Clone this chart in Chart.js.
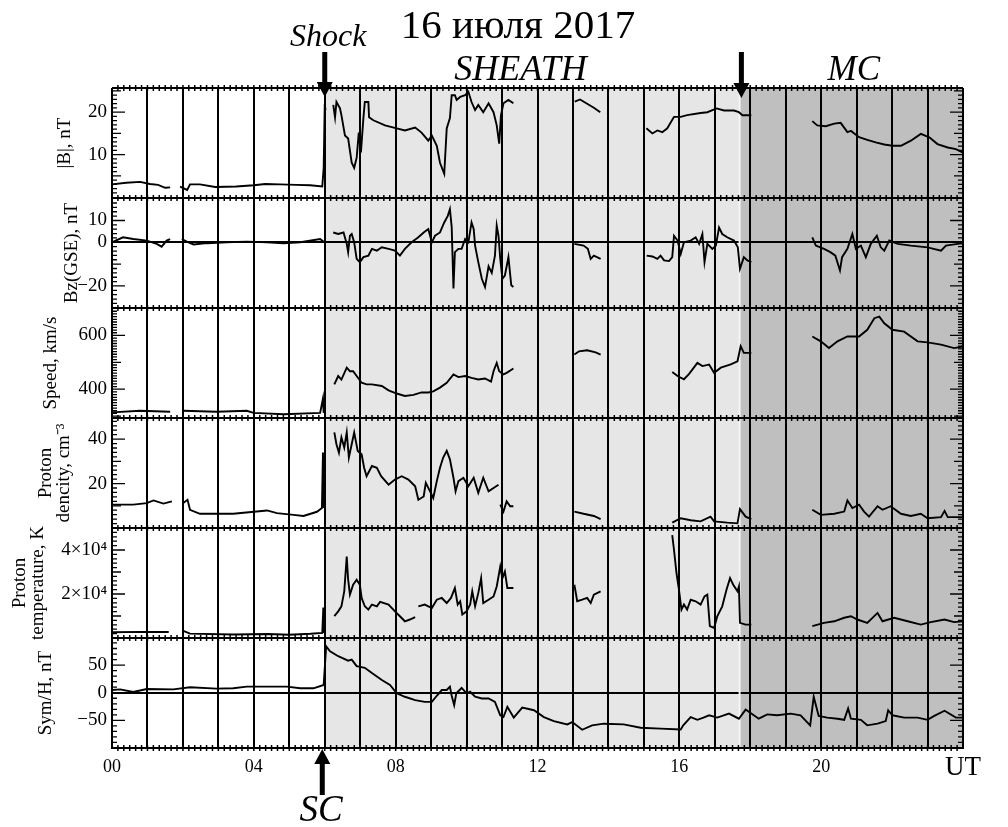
<!DOCTYPE html>
<html lang="ru">
<head>
<meta charset="UTF-8">
<title>16 июля 2017</title>
<script src="https://cdn.jsdelivr.net/npm/chart.js"></script>
<style>
  html, body { margin: 0; padding: 0; background: #fff; }
  #wrap { width: 1008px; height: 827px; }
</style>
</head>
<body>
<div id="wrap"><canvas id="grafico" width="1008" height="827"></canvas></div>
<script>
// ---- dados (tempo em horas UT, null = falha nos dados) ----
const horas = [0,1,2,3,4,5,6,7,8,9,10,11,12,13,14,15,16,17,18,19,20,21,22,23,24];
const horasRotulo = [0, 4, 8, 12, 16, 20];
const rotulosHora = ['00', '04', '08', '12', '16', '20'];

const inicioSheath = 6.0;   // choque
const inicioMC = 17.7;      // nuvem magnética
const setaChoque = 6.0;
const setaMC = 17.75;
const setaSC = 5.93;

// |B|, nT
const bT = [0,0.4,0.79,1.07,1.3,1.5,1.64,1.78,1.92,2.12,2.2,2.48,2.91,3.5,4.0,4.32,4.74,5.2,5.59,5.93,5.97,6.0,6.02,6.1,
  6.24,6.29,6.33,6.43,6.47,6.57,6.66,6.76,6.83,6.9,6.96,7.02,7.09,7.13,7.23,7.25,7.37,7.7,8.03,8.26,8.55,8.73,8.92,9.02,9.16,9.25,9.37,9.44,9.53,9.58,9.67,9.72,9.82,9.96,10.05,10.14,10.24,10.33,10.47,10.62,10.76,10.85,10.92,10.97,11.04,11.18,11.32,12.2,
  13.05,13.2,13.4,13.6,13.77,14.4,
  15.07,15.24,15.38,15.52,15.66,15.85,16.04,16.22,16.6,16.79,17.05,17.26,17.54,17.68,17.78,18.03,19.0,
  19.75,19.89,20.13,20.37,20.55,20.74,20.84,21.07,21.3,21.54,21.78,22.01,22.25,22.53,22.81,23.05,23.28,23.57,23.8,24.0];
const bV = [3.0,3.4,3.6,3.1,2.9,2.2,2.3,null,2.5,1.7,3.0,3.0,2.4,2.5,2.8,3.1,3.0,2.9,2.8,2.5,6.9,22.0,20.5,null,
  21.7,18.8,22.4,20.9,19.3,14.5,13.8,8.1,6.9,9.3,15.2,10.5,18.6,22.4,22.4,18.8,18.1,16.9,16.2,15.7,16.4,15.2,13.3,14.5,12.1,8.1,5.5,16.2,18.6,24,24,22.9,23.6,24,24.8,22.4,20.5,21.7,20,22.1,20,16.9,12.6,19.3,22.1,22.9,22.1,null,
  22.5,23,22,21,20,null,
  16.2,15,15.7,15.3,16.2,18.9,18.9,19.3,19.8,20,20.9,20.4,20.4,20,19.3,19.3,null,
  17.9,16.9,16.7,17.3,17.5,15.3,15.6,14.1,13.5,12.9,12.4,12.1,12.1,13.3,14.9,14.1,12.5,11.7,11.3,10.5];

// Bz(GSE), nT
const bzT = [0,0.31,0.6,0.98,1.26,1.4,1.54,1.64,1.8,1.97,2.11,2.3,2.67,3.24,3.8,4.37,4.83,5.31,5.87,5.97,6.1,
  6.24,6.38,6.53,6.62,6.66,6.71,6.76,6.83,6.9,6.99,7.09,7.23,7.33,7.47,7.61,7.8,7.98,8.12,8.26,8.45,8.64,8.79,8.92,9.02,9.11,9.25,9.37,9.47,9.53,9.58,9.63,9.67,9.77,9.86,9.96,10.05,10.14,10.2,10.24,10.33,10.43,10.52,10.62,10.71,10.8,10.85,10.9,10.95,11.01,11.08,11.18,11.26,11.32,12.2,
  13.04,13.3,13.42,13.5,13.59,13.78,14.4,
  15.08,15.24,15.38,15.47,15.57,15.71,15.8,15.85,15.95,16.04,16.13,16.32,16.46,16.56,16.65,16.71,16.79,16.93,17.03,17.12,17.21,17.35,17.54,17.65,17.71,17.82,17.92,18.03,19.0,
  19.75,19.85,20.08,20.26,20.4,20.53,20.59,20.74,20.88,20.98,21.12,21.26,21.4,21.57,21.68,21.78,21.92,22.16,22.53,23.0,23.38,23.52,23.85,24];
const bzV = [0,2.3,1.5,0.8,-0.7,-2,0.8,1.5,null,1.5,0.3,-1,-0.4,0,0.3,0,-0.4,0,1.5,0.3,null,
  4.5,3.8,4.5,-0.7,-4.5,3,3.8,0,-7.6,-9.1,-6.8,-6.1,-3,-3.8,-2.3,-3,-3.8,-6.1,-3,0,2.3,4.5,6.1,0,3,4.5,9.1,12.1,15.2,7,-21.2,-4.5,-3,-3,1.5,0,9.1,6.1,-1.5,-9.1,-16.7,-20.5,-11,-14,-6.1,7.6,3,-7.6,-16.7,-15.2,-6.8,-19.7,-20.5,null,
  -0.7,-1.5,-3,-7.6,-6.1,-7.6,null,
  -6.1,-6.5,-7.6,-6.1,-8.3,-8.6,-6.8,3,0.8,-5.3,0,0.8,2.3,-0.7,3.8,-9.1,-0.7,-3,-1.5,6.8,3.8,2.3,0.8,-2.3,-12.1,-6.8,-8.3,-9.1,null,
  2.3,-1.5,-3,-4.5,-6.1,-12.9,-6.8,-3,3.8,-3,-1.5,-6.8,-0.7,3,-2.3,-3.8,0.8,-0.7,-1.5,-2.3,-3.8,-1.5,-0.7,-0.4];

// Speed, km/s
const vT = [0,0.79,1.64,1.8,2.01,2.95,3.8,3.99,4.84,5.87,5.95,5.97,6.1,
  6.27,6.38,6.47,6.62,6.71,6.8,6.9,7.04,7.18,7.33,7.61,7.8,8.03,8.26,8.5,8.73,8.92,9.06,9.25,9.44,9.63,9.77,9.96,10.14,10.33,10.52,10.69,10.76,10.85,10.92,11.04,11.13,11.32,12.2,
  13.04,13.17,13.4,13.64,13.78,14.4,
  15.8,15.95,16.13,16.27,16.51,16.65,16.84,16.98,17.17,17.45,17.64,17.73,17.82,18.03,19.0,
  19.75,19.99,20.22,20.46,20.74,21.07,21.3,21.5,21.64,21.78,22.01,22.34,22.72,23.0,23.38,23.75,24];
const vV = [314,320,316,null,320,316,320,312,307,312,366,312,null,
  418,449,436,480,467,467,449,424,418,418,412,396,384,375,379,388,388,392,406,424,455,445,449,442,436,440,428,467,498,467,455,461,477,null,
  529,541,545,537,529,null,
  464,449,437,456,498,486,492,461,480,492,504,560,535,535,null,
  596,578,553,578,596,596,621,664,670,645,621,614,578,574,566,553,559];

// Proton density, cm-3
const nT = [0,0.6,0.98,1.17,1.45,1.69,1.85,2.01,2.13,2.2,2.48,3.42,4.37,4.65,5.12,5.4,5.78,5.92,5.95,5.97,6.1,
  6.27,6.33,6.4,6.47,6.55,6.62,6.68,6.76,6.83,6.93,7.04,7.11,7.18,7.33,7.47,7.59,7.8,7.98,8.17,8.36,8.55,8.64,8.79,8.85,8.97,9.06,9.16,9.25,9.34,9.44,9.53,9.63,9.69,9.77,9.91,10.05,10.2,10.33,10.47,10.62,10.76,10.9,10.92,
  10.95,11.04,11.13,11.23,11.32,12.2,
  13.04,13.3,13.59,13.78,14.4,
  15.8,16.04,16.32,16.6,16.88,16.98,17.35,17.64,17.71,17.87,18.03,19.0,
  19.75,19.99,20.37,20.65,20.74,20.88,21.07,21.21,21.35,21.59,21.73,21.96,22.25,22.53,22.81,23.0,23.38,23.48,23.57,24];
const nV = [10.5,10.5,11.2,12.4,11,12,null,11.2,12.7,8.2,6.4,6.4,7.9,6.7,5.9,5.4,7.3,9,34,9,null,
  43,37.7,33.9,40.8,36.2,43,31.7,37.7,43,34.7,33.2,27.1,23.3,27.9,27.1,23.3,19.5,21.8,23.3,21.8,18.8,12.7,14.2,20.3,16.5,13.5,21.1,27.1,31.7,34.7,30.9,22.6,16.5,21.1,22.6,18.8,22.6,15.8,22.6,16.5,18,19.5,null,
  10.5,7.4,12,9.8,9.8,null,
  7.4,6.4,5.4,4,null,
  2.4,4.4,3.5,3.0,5.1,3.0,2.4,2.1,8.5,5.1,4,null,
  8.2,5.9,6.4,7.4,12.4,9,10.5,7.4,5.1,9.8,8.2,9.8,6.4,5.4,6.4,4.4,4.9,7.7,4.9,4.9];

// Proton temperature, K
const tpT = [0,0.8,1.6,1.8,2.01,2.2,3.42,4.4,5.0,5.6,5.93,5.96,5.98,6.1,
  6.27,6.38,6.47,6.55,6.62,6.66,6.71,6.8,6.9,6.99,7.04,7.13,7.23,7.33,7.47,7.56,7.8,7.98,8.12,8.26,8.4,8.55,8.6,
  8.64,8.82,9.02,9.16,9.3,9.44,9.56,9.67,9.75,9.82,9.88,10.0,10.1,10.16,10.24,10.33,10.41,10.47,10.62,10.76,10.85,10.95,11.01,11.08,11.15,11.32,12.2,
  13.04,13.12,13.26,13.4,13.5,13.59,13.78,14.4,
  15.8,15.85,15.92,15.99,16.06,16.13,16.22,16.32,16.46,16.6,16.71,16.79,16.86,16.98,17.07,17.21,17.33,17.43,17.52,17.64,17.68,17.71,17.87,18.03,19.0,
  19.75,20.08,20.37,20.65,20.84,21.02,21.3,21.59,21.73,22.06,22.44,22.81,23.09,23.48,23.75,24];
const tpV = [2600,2800,2700,null,3200,2000,1600,1800,1500,1900,2300,13800,2300,null,
  9900,12100,14400,21200,37000,26500,19700,24200,26500,24200,18200,14400,12900,15200,14400,16400,15200,12100,9900,7600,8400,9500,null,
  14400,15200,13600,17400,18200,15900,18200,22700,15200,16700,10700,12100,15200,21200,14400,20400,27200,15900,17400,18900,23400,32500,27200,30200,22700,22700,null,
  24200,16700,17400,18200,15900,19700,21200,null,
  46800,40000,29500,21900,12900,15200,12900,17400,16700,15200,18900,19700,5400,4600,9900,14400,21900,27200,24200,21200,23400,6900,6100,6100,null,
  5400,6900,7600,9200,9900,8400,6900,11400,7600,9200,7600,6100,7200,8400,7200,7600];

// Sym/H, nT
const symT = [0,0.23,0.6,0.98,1.73,2.2,2.95,3.42,3.8,4.93,5.31,5.68,5.97,6.04,6.15,6.38,6.66,6.76,6.9,7.13,7.33,7.61,7.84,8.03,8.26,8.55,8.82,9.02,9.16,9.3,9.44,9.53,9.58,9.65,9.71,9.86,10.0,10.1,10.24,10.43,10.62,10.8,10.95,11.04,11.15,11.33,11.57,11.9,
  12.18,12.46,12.84,12.98,13.26,13.54,13.87,14.43,14.91,15.47,16.04,16.11,16.32,16.51,16.68,16.84,17.07,17.4,17.68,17.87,18.1,18.24,18.48,18.76,19.14,19.42,19.69,19.79,19.93,
  20.17,20.46,20.65,20.76,20.84,21.12,21.3,21.59,21.82,21.89,22.01,22.34,22.72,23.0,23.19,23.48,23.8,24];
const symV = [4.9,6,1.3,6.8,6,9.8,7.4,8,11,11,8,8,14.1,84,75,66,58,60,48,45,35.5,23,14.1,-1,-7.3,-13.4,-16.5,-16.5,-5.5,4.9,4.9,11,-5.5,-22.5,-1,8.6,-1,1.8,-7.3,-10.4,-10.4,-16.5,-40.8,-43.9,-25.6,-45,-27,-31.7,
  -44,-51.3,-57.3,-53,-67,-59,-56,-57.3,-63.4,-65,-66.5,-59,-44,-49,-45,-40.8,-45,-37.8,-47,-30.5,-40.8,-47,-39.2,-40.8,-37.8,-40.8,-59,-7.3,-42,
  -45,-47,-49,-28.6,-47,-49,-59,-56,-51.3,-31.7,-40.8,-45,-45,-49,-42,-32.6,-45,-45];

// faixas e marcas dos eixos Y
const bFaixa = [-0.2, 25.7];   const bMarcas = [10, 20];            const bRotulos = ['10', '20'];
const bzFaixa = [-30.1, 20.3]; const bzMarcas = [-20, 0, 10];       const bzRotulos = ['\u221220', '0', '10'];
const vFaixa = [293, 702];     const vMarcas = [400, 600];          const vRotulos = ['400', '600'];
const nFaixa = [0, 49.5];      const nMarcas = [20, 40];            const nRotulos = ['20', '40'];
const tpFaixa = [0, 50000];    const tpMarcas = [20000, 40000];     const tpRotulos = ['2\u00d710\u2074', '4\u00d710\u2074'];
const symFaixa = [-100, 99];   const symMarcas = [-50, 0, 50];      const symRotulos = ['\u221250', '0', '50'];

const serif = '"Liberation Serif", "Times New Roman", serif';

// passos das marcas menores (dentro do quadro) para cada painel
const tracinhos = {
  yB:   { menor: 1,    medio: 5 },
  yBz:  { menor: 2,    medio: 10 },
  yV:   { menor: 10,   medio: 100 },
  yN:   { menor: 2,    medio: 10 },
  yTp:  { menor: 2000, medio: 10000 },
  ySym: { menor: 10,   medio: 50 }
};

function pontos(ts, vs) {
  return ts.map((t, i) => ({ x: t, y: vs[i] }));
}

function eixoY(faixa, marcas, rotulos, titulo, padTitulo, alturaLinha, linhaZero) {
  return {
    type: 'linear',
    position: 'left',
    stack: 'paineis',
    stackWeight: 1,
    min: faixa[0],
    max: faixa[1],
    afterFit: s => { s.width = 112; },
    afterBuildTicks: s => { s.ticks = marcas.map(v => ({ value: v })); },
    border: { display: false },
    grid: {
      display: linhaZero,
      drawTicks: false,
      lineWidth: 2,
      color: c => (c.tick && c.tick.value === 0) ? '#000' : 'rgba(0,0,0,0)'
    },
    ticks: {
      color: '#000',
      padding: 5,
      font: { family: serif, size: 19 },
      callback: v => {
        const i = marcas.indexOf(v);
        return i >= 0 ? rotulos[i] : '';
      }
    },
    title: {
      display: true,
      text: titulo,
      color: '#000',
      font: { family: serif, size: 19, lineHeight: alturaLinha },
      padding: { top: padTitulo, bottom: 0 }
    }
  };
}

// fundo cinza: sheath e nuvem magnética
const fundoPaineis = {
  id: 'fundoPaineis',
  beforeDraw(chart) {
    const { ctx, chartArea: a, scales: { x } } = chart;
    const x1 = x.getPixelForValue(inicioSheath);
    const x2 = x.getPixelForValue(inicioMC);
    ctx.save();
    ctx.fillStyle = '#e6e6e6';
    ctx.fillRect(x1, a.top, x2 - x1, a.bottom - a.top);
    ctx.fillStyle = '#bfbfbf';
    ctx.fillRect(x2, a.top, a.right - x2, a.bottom - a.top);
    ctx.restore();
  },
  beforeDatasetsDraw(chart) {
    const { ctx, chartArea: a, scales: { x } } = chart;
    const x2 = x.getPixelForValue(inicioMC);
    ctx.save();
    ctx.strokeStyle = '#f4f4f4';
    ctx.lineWidth = 2;
    ctx.beginPath();
    ctx.moveTo(x2, a.top);
    ctx.lineTo(x2, a.bottom);
    ctx.stroke();
    ctx.restore();
  }
};

// separadores entre painéis e marcas internas
const molduraPaineis = {
  id: 'molduraPaineis',
  afterDatasetsDraw(chart) {
    const { ctx, chartArea: a, scales } = chart;
    const x = scales.x;
    ctx.save();
    ctx.strokeStyle = '#000';
    const linhas = [];
    Object.keys(tracinhos).forEach(id => linhas.push(scales[id].top));
    linhas.push(a.bottom);
    linhas.forEach(y => {
      ctx.lineWidth = 2;
      ctx.beginPath();
      ctx.moveTo(a.left, y);
      ctx.lineTo(a.right, y);
      ctx.stroke();
      ctx.lineWidth = 1.5;
      ctx.beginPath();
      for (let k = 1; k < 24 * 6; k++) {
        const px = x.getPixelForValue(k / 6);
        ctx.moveTo(px, y - 3);
        ctx.lineTo(px, y + 3);
      }
      ctx.stroke();
    });

    Object.keys(tracinhos).forEach(id => {
      const s = scales[id];
      const cfg = tracinhos[id];
      const marcas = s.ticks.map(t => t.value);
      ctx.lineWidth = 1.3;
      ctx.beginPath();
      for (let k = Math.ceil(s.min / cfg.menor); k * cfg.menor <= s.max; k++) {
        const v = k * cfg.menor;
        const y = s.getPixelForValue(v);
        if (y < s.top + 1 || y > s.bottom - 1) continue;
        let len = 5;
        if (marcas.some(m => Math.abs(m - v) < 1e-6)) len = 13;
        else if (Math.abs(v / cfg.medio - Math.round(v / cfg.medio)) < 1e-6) len = 9;
        ctx.moveTo(a.left, y);
        ctx.lineTo(a.left + len, y);
        ctx.moveTo(a.right, y);
        ctx.lineTo(a.right - len, y);
      }
      ctx.stroke();
    });
    ctx.restore();
  }
};

function seta(ctx, x, yBase, yPonta) {
  const dir = yPonta > yBase ? 1 : -1;
  const cab = 15;
  const yCab = yPonta - dir * cab;
  ctx.fillRect(x - 2.5, Math.min(yBase, yCab), 5, Math.abs(yCab - yBase));
  ctx.beginPath();
  ctx.moveTo(x - 8, yCab);
  ctx.lineTo(x + 8, yCab);
  ctx.lineTo(x, yPonta);
  ctx.closePath();
  ctx.fill();
}

// títulos, setas e legendas do evento
const anotacoes = {
  id: 'anotacoes',
  afterDraw(chart) {
    const { ctx, scales: { x } } = chart;
    ctx.save();
    ctx.fillStyle = '#000';
    ctx.textAlign = 'center';
    ctx.textBaseline = 'alphabetic';

    ctx.font = '41px ' + serif;
    ctx.fillText('16 июля 2017', 518, 38);

    ctx.font = 'italic 32px ' + serif;
    ctx.fillText('Shock', x.getPixelForValue(6.1), 46);

    ctx.font = 'italic 36px ' + serif;
    ctx.fillText('SHEATH', x.getPixelForValue(11.52), 80);
    ctx.font = 'italic 35px ' + serif;
    ctx.fillText('MC', x.getPixelForValue(20.92), 80);
    ctx.font = 'italic 37px ' + serif;
    ctx.fillText('SC', x.getPixelForValue(5.9), 821);

    ctx.font = '27px ' + serif;
    ctx.fillText('UT', x.getPixelForValue(24), 775);

    seta(ctx, x.getPixelForValue(setaChoque), 52, 97);
    seta(ctx, x.getPixelForValue(setaMC), 52, 98);
    seta(ctx, x.getPixelForValue(setaSC), 795, 749);
    ctx.restore();
  }
};

function serie(rotulo, ts, vs, eixo) {
  return {
    label: rotulo,
    data: pontos(ts, vs),
    yAxisID: eixo,
    borderColor: '#000',
    borderWidth: 1.9,
    pointRadius: 0,
    tension: 0,
    fill: false,
    spanGaps: false
  };
}

const ctx = document.getElementById('grafico').getContext('2d');
new Chart(ctx, {
  type: 'line',
  data: {
    datasets: [
      serie('|B|', bT, bV, 'yB'),
      serie('Bz', bzT, bzV, 'yBz'),
      serie('Speed', vT, vV, 'yV'),
      serie('Density', nT, nV, 'yN'),
      serie('Temperature', tpT, tpV, 'yTp'),
      serie('Sym/H', symT, symV, 'ySym')
    ]
  },
  options: {
    responsive: false,
    animation: false,
    events: [],
    layout: { padding: { top: 88, right: 45, bottom: 0, left: 0 } },
    plugins: {
      legend: { display: false },
      tooltip: { enabled: false },
      title: { display: false }
    },
    scales: {
      x: {
        type: 'linear',
        min: 0,
        max: 24,
        afterFit: s => { s.height = 79; },
        afterBuildTicks: s => { s.ticks = horas.map(h => ({ value: h })); },
        grid: { color: '#000', lineWidth: 2, drawTicks: false },
        border: { display: true, color: '#000', width: 2 },
        ticks: {
          autoSkip: false,
          maxRotation: 0,
          padding: 8,
          color: '#000',
          font: { family: serif, size: 18 },
          callback: v => {
            const i = horasRotulo.indexOf(v);
            return i >= 0 ? rotulosHora[i] : '';
          }
        }
      },
      // declarados de baixo para cima
      ySym: eixoY(symFaixa, symMarcas, symRotulos, 'Sym/H, nT', 34.6, 1.2, true),
      yTp: eixoY(tpFaixa, tpMarcas, tpRotulos, ['Proton', 'temperature, K'], 11, 0.95, false),
      yN: eixoY(nFaixa, nMarcas, nRotulos, ['Proton', 'dencity, cm\u207b\u00b3'], 37, 0.95, false),
      yV: eixoY(vFaixa, vMarcas, vRotulos, 'Speed, km/s', 39.6, 1.2, false),
      yBz: eixoY(bzFaixa, bzMarcas, bzRotulos, 'Bz(GSE), nT', 60.6, 1.2, true),
      yB: eixoY(bFaixa, bMarcas, bRotulos, '|B|, nT', 53.6, 1.2, false)
    }
  },
  plugins: [fundoPaineis, molduraPaineis, anotacoes]
});
</script>
</body>
</html>
